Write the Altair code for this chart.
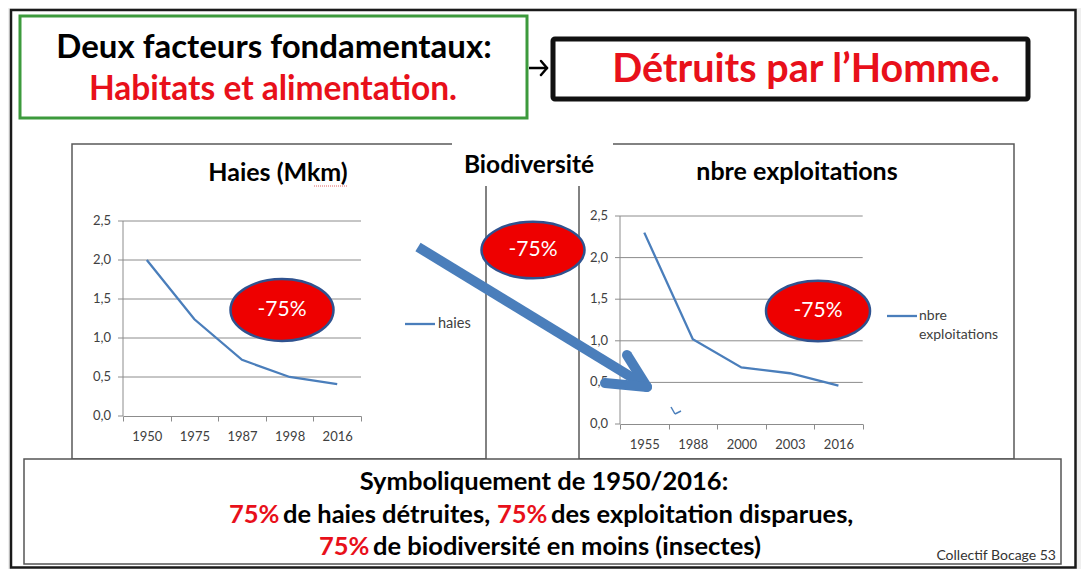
import altair as alt
import pandas as pd

# ---------------- data ----------------
haies_years = ["1950", "1975", "1987", "1998", "2016"]
haies_values = [2.0, 1.24, 0.72, 0.50, 0.41]
haies_name = "haies"

expl_years = ["1955", "1988", "2000", "2003", "2016"]
expl_values = [2.30, 1.02, 0.68, 0.61, 0.46]
expl_name_lines = ["nbre", "exploitations"]

y_ticks = [0.0, 0.5, 1.0, 1.5, 2.0, 2.5]
y_tick_labels = ["0,0", "0,5", "1,0", "1,5", "2,0", "2,5"]
drop_label = "-75%"

title_left = "Haies (Mkm)"
title_mid = "Biodiversité"
title_right = "nbre exploitations"

# ---------------- layout helpers ----------------
W, H = 1073, 561
FONT = "Lato"
BLUE = "#4a7ebb"
RED = "#e8101a"
AXIS_GRAY = "#8c8c8c"
LABEL_GRAY = "#404040"


def px(v):
    return v - 8


def py(v):
    return v - 8


dummy = alt.Data(values=[{"k": 0}])


def box(x1, y1, x2, y2, fill="transparent", stroke=None, sw=1.0, r=0):
    kw = dict(fill=fill)
    if stroke:
        kw.update(stroke=stroke, strokeWidth=sw)
    if r:
        kw["cornerRadius"] = r
    return alt.Chart(dummy).mark_rect(**kw).encode(
        x=alt.value(px(x1)), x2=alt.value(px(x2)),
        y=alt.value(py(y1)), y2=alt.value(py(y2)))


def label(txt, x, y, size, color="#000000", weight="normal", align="center"):
    return alt.Chart(dummy).mark_text(
        text=txt, font=FONT, fontSize=size, color=color, fontWeight=weight,
        align=align, baseline="middle").encode(x=alt.value(px(x)), y=alt.value(py(y)))


def seg(x1, y1, x2, y2, color, sw, cap="butt", dash=None):
    kw = dict(color=color, strokeWidth=sw, strokeCap=cap)
    if dash:
        kw["strokeDash"] = dash
    return alt.Chart(dummy).mark_rule(**kw).encode(
        x=alt.value(px(x1)), y=alt.value(py(y1)),
        x2=alt.value(px(x2)), y2=alt.value(py(y2)))


def oval(cx, cy, w, ratio):
    path = f"M -1 0 A 1 {ratio} 0 1 1 1 0 A 1 {ratio} 0 1 1 -1 0 Z"
    return alt.Chart(dummy).mark_point(
        shape=path, size=w * w, filled=True, fill="#ee0000", fillOpacity=1,
        stroke="#2f528f", strokeWidth=2.5, opacity=1).encode(
        x=alt.value(px(cx)), y=alt.value(py(cy)))


def line_panel(years, values, name, x0, x1, ybot, ytop):
    df = pd.DataFrame({"annee": years, "valeur": values, "serie": name})
    ticks_df = pd.DataFrame({"g": y_ticks, "lab": y_tick_labels})
    dom_df = pd.DataFrame({"lo": [y_ticks[0]], "hi": [y_ticks[-1]]})
    xs = alt.Scale(type="band", domain=years, range=[px(x0), px(x1)],
                   paddingInner=0, paddingOuter=0)
    ys = alt.Scale(type="linear", domain=[y_ticks[0], y_ticks[-1]],
                   range=[py(ybot), py(ytop)], nice=False, zero=False)
    xa = alt.Axis(orient="bottom", offset=py(ybot) - H, tickBand="extent",
                  domainColor=AXIS_GRAY, tickColor=AXIS_GRAY, tickSize=5,
                  labelFont=FONT, labelFontSize=13, labelColor=LABEL_GRAY,
                  labelPadding=9, labelAngle=0, grid=False, title=None)
    grid = alt.Chart(ticks_df).transform_filter("datum.g > 0").mark_rule(
        color=AXIS_GRAY, strokeWidth=1).encode(
        y=alt.Y("g:Q", scale=ys, axis=None),
        x=alt.value(px(x0)), x2=alt.value(px(x1)))
    ydomain = alt.Chart(dom_df).mark_rule(color=AXIS_GRAY, strokeWidth=1).encode(
        y=alt.Y("lo:Q", scale=ys, axis=None), y2="hi:Q", x=alt.value(px(x0)))
    yticks = alt.Chart(ticks_df).mark_rule(color=AXIS_GRAY, strokeWidth=1).encode(
        y=alt.Y("g:Q", scale=ys, axis=None),
        x=alt.value(px(x0) - 5), x2=alt.value(px(x0)))
    ylabels = alt.Chart(ticks_df).mark_text(
        align="right", baseline="middle", font=FONT, fontSize=13,
        color=LABEL_GRAY).encode(
        y=alt.Y("g:Q", scale=ys, axis=None), x=alt.value(px(x0) - 12),
        text="lab:N")
    line = alt.Chart(df).mark_line(color=BLUE, strokeWidth=2.3).encode(
        x=alt.X("annee:N", scale=xs, axis=xa, bandPosition=0.5),
        y=alt.Y("valeur:Q", scale=ys, axis=None))
    return alt.layer(grid, ydomain, yticks, ylabels, line)


layers = []

# page margins (light gray) and slide frame
layers += [
    box(8, 8, 11, 577, fill="#efefef"),
    box(8, 8, 1081, 9.5, fill="#efefef"),
    box(1076, 8, 1081, 577, fill="#efefef"),
    box(11, 10, 1075.5, 567.5, stroke="#1a1a1a", sw=2.5),
]

# header boxes
layers += [
    box(20, 16, 527, 118, stroke="#3c9a3c", sw=3),
    label("Deux facteurs fondamentaux:", 274, 48, 33, weight="bold"),
    label("Habitats et alimentation.", 273, 90, 33.5, color=RED, weight="bold"),
    seg(529, 68, 547, 68, "#000000", 2.5),
    seg(547, 68, 541, 61, "#000000", 2.5, cap="round"),
    seg(547, 68, 541, 75, "#000000", 2.5, cap="round"),
    box(553, 39, 1028, 99, stroke="#111111", sw=5, r=2),
    label("Détruits par l’Homme.", 806, 70, 39.5, color=RED, weight="bold"),
]

# chart frames
layers += [
    box(72, 144, 486, 459, stroke="#595959", sw=1.5),
    box(579, 144, 1014, 459, stroke="#595959", sw=1.5),
    box(452, 136, 613, 186, fill="#ffffff"),
    label(title_mid, 529, 166, 24.5, weight="bold"),
]

# bottom text box
BT = 25.5
layers += [
    box(24, 459, 1061, 564, fill="#ffffff", stroke="#555555", sw=1.5),
    label("Symboliquement de 1950/2016:", 544, 482, BT, weight="bold"),
    label("75%", 229, 515, BT, color=RED, weight="bold", align="left"),
    label("de haies détruites,", 283, 515, BT, weight="bold", align="left"),
    label("75%", 497, 515, BT, color=RED, weight="bold", align="left"),
    label("des exploitation disparues,", 551, 515, BT, weight="bold", align="left"),
    label("75%", 319, 547, BT, color=RED, weight="bold", align="left"),
    label("de biodiversité en moins (insectes)", 373, 547, BT, weight="bold", align="left"),
    label("Collectif Bocage 53", 1056, 556, 14, color="#333333", align="right"),
]

# the two line charts
layers += [
    line_panel(haies_years, haies_values, haies_name, 123, 361, 416, 221),
    line_panel(expl_years, expl_values, " ".join(expl_name_lines), 620, 862.7, 424, 216),
]

# titles and legends
layers += [
    label(title_left, 278, 173, 25, weight="bold"),
    seg(314, 186, 348, 186, "#e06060", 1, dash=[1, 1]),
    label(title_right, 797, 172, 25, weight="bold"),
    seg(405, 324, 435, 324, BLUE, 2.3),
    label(haies_name, 438, 324, 14.5, color=LABEL_GRAY, align="left"),
    seg(887, 316, 917, 316, BLUE, 2.3),
    label(expl_name_lines[0], 919, 316, 14, color=LABEL_GRAY, align="left"),
    label(expl_name_lines[1], 919, 335, 14, color=LABEL_GRAY, align="left"),
]

# ovals
for cx, cy, w, r in [(282, 310, 103, 0.6), (533, 250, 103, 0.55), (818, 311, 104, 0.58)]:
    layers += [oval(cx, cy, w, r), label(drop_label, cx, cy, 21, color="#ffffff")]

# big arrow and stray mark
layers += [
    seg(418, 247, 641, 383, BLUE, 10),
    seg(647, 387, 627, 355, BLUE, 10, cap="round"),
    seg(647, 387, 605, 383, BLUE, 10, cap="round"),
    seg(671, 407, 675, 414, BLUE, 1.5),
    seg(675, 414, 681, 411, BLUE, 1.5),
]

chart = alt.layer(*layers).resolve_scale(
    x="independent", y="independent"
).properties(
    width=W, height=H, padding=0,
    autosize=alt.AutoSizeParams(type="none"),
).configure_view(strokeWidth=0)

chart.save("out.html", embed_options={"renderer": "svg", "actions": False})
